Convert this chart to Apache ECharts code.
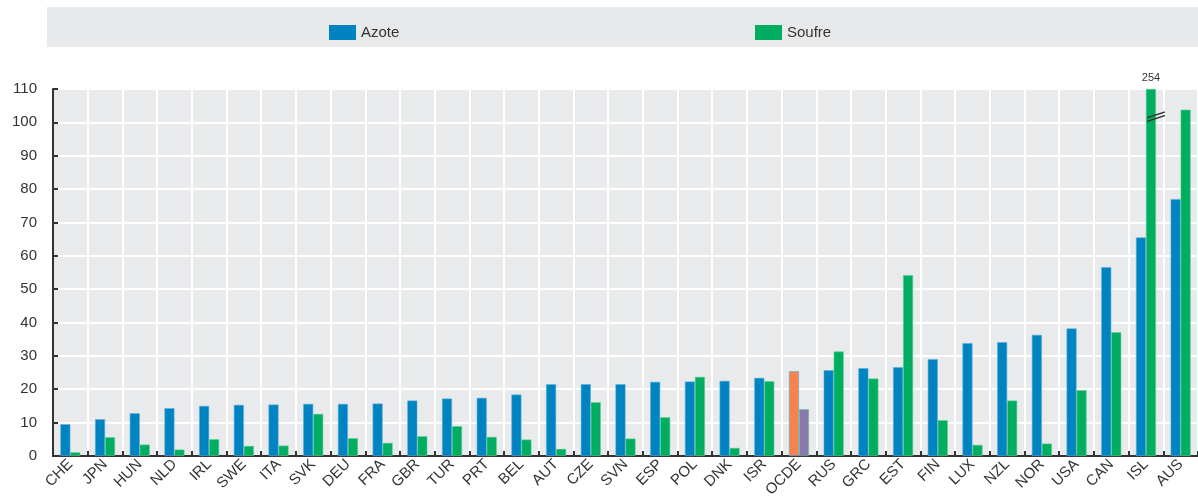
<!DOCTYPE html>
<html lang="fr">

<head>
    <meta charset="UTF-8">
    <title>Azote / Soufre</title>
    <style>
        body { margin: 0; }
        #chart { width: 1198px; height: 500px; }
    </style>
    <script src="https://cdn.jsdelivr.net/npm/echarts@6/dist/echarts.min.js"></script>
</head>

<body>
    <div id="chart"></div>
    <script>
        var categories = ['CHE', 'JPN', 'HUN', 'NLD', 'IRL', 'SWE', 'ITA', 'SVK', 'DEU', 'FRA', 'GBR',
            'TUR', 'PRT', 'BEL', 'AUT', 'CZE', 'SVN', 'ESP', 'POL', 'DNK', 'ISR', 'OCDE',
            'RUS', 'GRC', 'EST', 'FIN', 'LUX', 'NZL', 'NOR', 'USA', 'CAN', 'ISL', 'AUS'];
        var azote = [9.5, 11.0, 12.8, 14.3, 15.0, 15.3, 15.4, 15.6, 15.6, 15.7, 16.6,
            17.2, 17.4, 18.4, 21.5, 21.5, 21.5, 22.2, 22.3, 22.5, 23.4, 25.4,
            25.7, 26.3, 26.6, 29.0, 33.8, 34.1, 36.3, 38.2, 56.6, 65.5, 77.0];
        var soufre = [1.1, 5.6, 3.4, 1.9, 5.0, 3.0, 3.1, 12.6, 5.3, 3.9, 5.9,
            8.9, 5.7, 4.9, 2.1, 16.1, 5.2, 11.6, 23.7, 2.4, 22.4, 14.0,
            31.3, 23.2, 54.2, 10.7, 3.3, 16.6, 3.7, 19.7, 37.1, 254, 103.8];
        var yTicks = [0, 10, 20, 30, 40, 50, 60, 70, 80, 90, 100, 110];

        var yMax = yTicks[yTicks.length - 1];
        var fontFam = "'Liberation Sans Narrow', 'Arial Narrow', 'Liberation Sans', sans-serif";
        var blue = '#0083c1', green = '#00ad61';
        var oecdAzote = '#f5834a', oecdSoufre = '#8a78ad';

        var myChart = echarts.init(document.getElementById('chart'));

        var azoteData = azote.map(function (v, i) {
            if (categories[i] === 'OCDE') return { value: v, itemStyle: { color: oecdAzote } };
            return v;
        });
        var breakIdx = -1;
        var soufreData = soufre.map(function (v, i) {
            if (categories[i] === 'OCDE') return { value: v, itemStyle: { color: oecdSoufre } };
            if (v > yMax) {
                // bar cut at the top of the axis, real value written above it
                breakIdx = i;
                return {
                    value: yMax,
                    label: {
                        show: true, position: 'top', distance: 6, formatter: String(v),
                        fontSize: 11, color: '#333', fontFamily: fontFam
                    }
                };
            }
            return v;
        });

        var legendText = { fontSize: 15, color: '#333', fontFamily: fontFam };
        var legendIcon = { borderWidth: 0 };

        var option = {
            animation: false,
            textStyle: { fontFamily: fontFam },
            graphic: [{
                type: 'rect',
                left: 47, top: 7,
                shape: { width: 1151, height: 40 },
                style: { fill: '#e8e9eb' },
                z: -1
            }],
            legend: [{
                data: ['Azote'], left: 324, top: 20,
                itemWidth: 27, itemHeight: 15, icon: 'rect',
                itemStyle: legendIcon, textStyle: legendText
            }, {
                data: ['Soufre'], left: 750, top: 20,
                itemWidth: 27, itemHeight: 15, icon: 'rect',
                itemStyle: legendIcon, textStyle: legendText
            }],
            grid: {
                left: 53, right: 0, top: 89, bottom: 39,
                show: true, backgroundColor: '#e9eaec', borderWidth: 0,
                containLabel: false
            },
            xAxis: {
                type: 'category',
                data: categories,
                boundaryGap: true,
                axisLine: { lineStyle: { color: '#333', width: 2 } },
                axisTick: { show: true, inside: true, length: 5, lineStyle: { color: '#333', width: 2 } },
                axisLabel: {
                    rotate: 45, interval: 0, margin: 6,
                    fontSize: 15, color: '#333', fontFamily: fontFam
                },
                splitLine: { show: true, lineStyle: { color: '#ffffff', width: 2 } }
            },
            yAxis: {
                type: 'value',
                min: 0, max: yMax, interval: 10,
                axisLine: { show: true, lineStyle: { color: '#333', width: 2 } },
                axisTick: { show: true, inside: true, length: 5, lineStyle: { color: '#333', width: 2 } },
                axisLabel: { margin: 16, fontSize: 15, color: '#333', fontFamily: fontFam },
                splitLine: { show: true, lineStyle: { color: '#ffffff', width: 2 } }
            },
            series: [{
                name: 'Azote',
                type: 'bar',
                barWidth: 10,
                barGap: '0%',
                itemStyle: { color: blue, borderColor: '#5aaede', borderWidth: 0.6 },
                data: azoteData
            }, {
                name: 'Soufre',
                type: 'bar',
                barWidth: 10,
                barGap: '0%',
                clip: true,
                itemStyle: { color: green, borderColor: '#5ccf94', borderWidth: 0.6 },
                data: soufreData,
                markPoint: breakIdx < 0 ? undefined : {
                    silent: true,
                    symbol: 'path://M0,9 L20,1 L20,3 L0,11 Z M0,14 L20,6 L20,8 L0,16 Z',
                    symbolSize: [18, 11],
                    symbolOffset: [5, 0],
                    itemStyle: { color: '#333', borderWidth: 0 },
                    label: { show: false },
                    data: [{ coord: [categories[breakIdx], yMax - 8.3] }]
                }
            }]
        };
        myChart.setOption(option);
    </script>
</body>

</html>
